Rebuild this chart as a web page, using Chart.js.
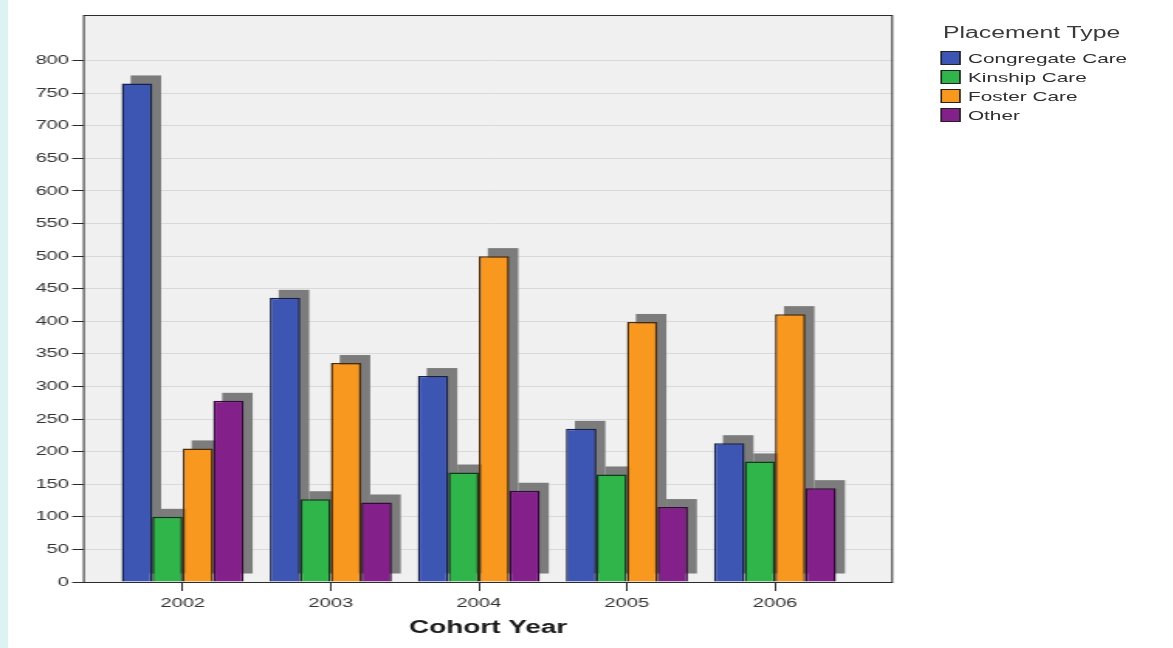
<!DOCTYPE html>
<html>
<head>
<meta charset="utf-8">
<title>Placement Type by Cohort Year</title>
<script src="https://cdn.jsdelivr.net/npm/chart.js@4.4.1/dist/chart.umd.min.js"></script>
<style>
  html, body { margin: 0; padding: 0; background: #fff; }
  body { width: 1173px; height: 648px; overflow: hidden; position: relative; }
  #strip { position: absolute; left: 0; top: 0; width: 8px; height: 648px; background: #ddf3f3; }
  /* the reference picture is stretched sideways, so the chart is drawn narrow and scaled */
  #stage { position: absolute; left: 0; top: 0; width: 757px; height: 648px; transform: scaleX(1.5495); transform-origin: 0 0; }
  #legend { position: absolute; left: 606.6px; top: 22px; font-family: "Liberation Sans", Arial, sans-serif; color: #2e2e2e; }
  #legend .title { font-size: 16px; line-height: 22px; padding-left: 2px; color: #3a3a3a; margin-bottom: 4.5px; }
  #legend .row { display: flex; align-items: center; height: 19px; font-size: 13.4px; }
  #legend .box { width: 11.6px; height: 12px; border: 1px solid #222; margin-right: 4.5px; }
</style>
</head>
<body>
<div id="stage">
  <canvas id="chart" width="757" height="648"></canvas>
  <div id="legend"></div>
</div>
<div id="strip"></div>
<script>
const cohortYears = ['2002', '2003', '2004', '2005', '2006'];
const placementTypes = ['Congregate Care', 'Kinship Care', 'Foster Care', 'Other'];

const congregateCare = [765, 436, 316, 235, 213];
const kinshipCare = [100, 127, 168, 165, 185];
const fosterCare = [205, 336, 500, 399, 411];
const otherCare = [278, 122, 140, 115, 144];

const yTickValues = [0, 50, 100, 150, 200, 250, 300, 350, 400, 450, 500, 550, 600, 650, 700, 750, 800];

const fillColors = ['#3d56b3', '#2fb54a', '#f9981e', '#84208a'];
const borderColors = ['#16204f', '#0d3a18', '#4e2a04', '#34083a'];

const fontFamily = '"Liberation Sans", Arial, sans-serif';
const seriesValues = [congregateCare, kinshipCare, fosterCare, otherCare];

// gray block shadow behind each bar, shifted up and right
const barShadow = {
    id: 'barShadow',
    beforeDatasetsDraw(chart) {
        const ctx = chart.ctx;
        ctx.save();
        ctx.fillStyle = '#7c7c7c';
        chart.data.datasets.forEach((ds, i) => {
            chart.getDatasetMeta(i).data.forEach(bar => {
                const p = bar.getProps(['x', 'y', 'base', 'width'], true);
                ctx.fillRect(p.x - p.width / 2 + 5.8, p.y - 8, p.width, p.base - p.y);
            });
        });
        ctx.restore();
    }
};

const plotFrame = {
    id: 'plotFrame',
    beforeDraw(chart) {
        const a = chart.chartArea;
        const ctx = chart.ctx;
        ctx.save();
        ctx.fillStyle = '#f0f0f0';
        ctx.fillRect(a.left, a.top, a.right - a.left, a.bottom - a.top);
        ctx.restore();
    },
    afterDatasetsDraw(chart) {
        const a = chart.chartArea;
        const ctx = chart.ctx;
        ctx.save();
        ctx.strokeStyle = '#2b2b2b';
        ctx.lineWidth = 1;
        ctx.strokeRect(a.left + 0.5, a.top + 0.5, a.right - a.left - 1, a.bottom - a.top);
        ctx.restore();
    }
};

const datasets = placementTypes.map((name, i) => ({
    label: name,
    data: seriesValues[i].map((v, j) => ({ x: j, y: v })),
    backgroundColor: fillColors[i],
    borderColor: borderColors[i],
    borderWidth: 1.5,
    categoryPercentage: 0.824,
    barPercentage: 1
}));

new Chart(document.getElementById('chart'), {
    type: 'bar',
    data: { datasets: datasets },
    options: {
        responsive: false,
        animation: false,
        layout: { padding: { top: 15, right: 180.7, bottom: 9, left: 0 } },
        plugins: {
            legend: { display: false },
            tooltip: { enabled: false }
        },
        scales: {
            x: {
                type: 'linear',
                min: -0.673,
                max: 4.797,
                offset: false,
                afterBuildTicks: s => { s.ticks = cohortYears.map((_, i) => ({ value: i })); },
                afterFit: s => { s.height = 57; },
                grid: { drawOnChartArea: false, offset: false, tickLength: 9, tickColor: '#2b2b2b' },
                border: { display: false },
                ticks: {
                    callback: v => cohortYears[v],
                    autoSkip: false,
                    maxRotation: 0,
                    padding: 5,
                    color: '#333',
                    font: { family: fontFamily, size: 13 }
                },
                title: {
                    display: true,
                    text: 'Cohort Year',
                    color: '#1a1a1a',
                    padding: { top: 0, bottom: 0 },
                    font: { family: fontFamily, size: 18, weight: 'bold' }
                }
            },
            y: {
                min: 0,
                max: 870,
                afterBuildTicks: s => { s.ticks = yTickValues.map(v => ({ value: v })); },
                afterFit: s => { s.width = 53.57; },
                grid: { color: '#d9d9d9', tickColor: '#2b2b2b', tickLength: 7 },
                border: { display: false },
                ticks: {
                    padding: 2,
                    color: '#333',
                    font: { family: fontFamily, size: 13 }
                }
            }
        }
    },
    plugins: [plotFrame, barShadow]
});

// legend as html, next to the plot
const legendDiv = document.getElementById('legend');
legendDiv.innerHTML = '<div class="title">Placement Type</div>' +
    placementTypes.map((name, i) =>
        `<div class="row"><span class="box" style="background:${fillColors[i]}"></span>${name}</div>`
    ).join('');
</script>
</body>
</html>
